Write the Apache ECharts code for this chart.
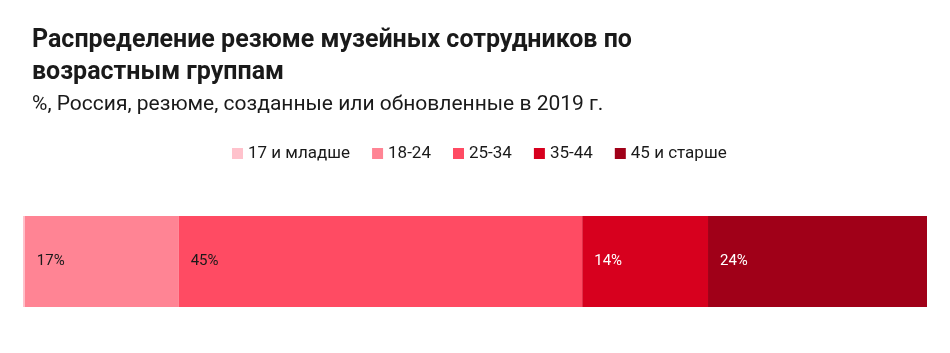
<!DOCTYPE html>
<html><head><meta charset="utf-8">
<script src="https://cdn.jsdelivr.net/npm/echarts@6/dist/echarts.min.js"></script>
<style>html,body{margin:0;padding:0;background:#fff}#c{width:950px;height:353px}</style>
</head><body><div id="c"></div>
<script>
const titleLines = ['Распределение резюме музейных сотрудников по', 'возрастным группам'];
const subtitle = '%, Россия, резюме, созданные или обновленные в 2019 г.';
const category = ['Россия'];
const seriesNames = ['17 и младше', '18-24', '25-34', '35-44', '45 и старше'];
const seriesValues = [0.2, 17.0, 44.6, 13.9, 24.2];
const seriesColors = ['#FFC2CC', '#FF8494', '#FF4B63', '#D7001E', '#A00018'];
const labelColors = ['#1a1a1a', '#1a1a1a', '#1a1a1a', '#ffffff', '#ffffff'];
const total = seriesValues.reduce((a, b) => a + b, 0);
const FONT = 'Roboto';

const chart = echarts.init(document.getElementById('c'), null, {renderer: 'canvas'});
chart.setOption({
  animation: false,
  title: {
    text: titleLines.join('\n'),
    subtext: subtitle,
    left: 27, top: 20,
    itemGap: 4,
    textStyle: {fontFamily: FONT, fontWeight: 'bold', fontSize: 25, lineHeight: 32, color: '#1a1a1a'},
    subtextStyle: {fontFamily: FONT, fontSize: 21, lineHeight: 24, color: '#1a1a1a'}
  },
  legend: {
    data: seriesNames,
    top: 140, left: 227,
    itemWidth: 11, itemHeight: 11, itemGap: 22,
    icon: 'rect',
    textStyle: {fontFamily: FONT, fontSize: 17, color: '#1a1a1a'}
  },
  grid: {left: 23, right: 23, top: 216, bottom: 46, containLabel: false},
  xAxis: {type: 'value', min: 0, max: total, show: false},
  yAxis: {type: 'category', data: category, show: false},
  series: seriesNames.map((n, i) => ({
    name: n, type: 'bar', stack: 'all', barWidth: '100%',
    data: [seriesValues[i]],
    itemStyle: {color: seriesColors[i]},
    label: {
      show: seriesValues[i] >= 1,
      position: 'insideLeft', offset: [7, 0],
      fontFamily: FONT, fontSize: 15, color: labelColors[i],
      formatter: p => Math.round(p.value) + '%'
    }
  }))
});
</script></body></html>
